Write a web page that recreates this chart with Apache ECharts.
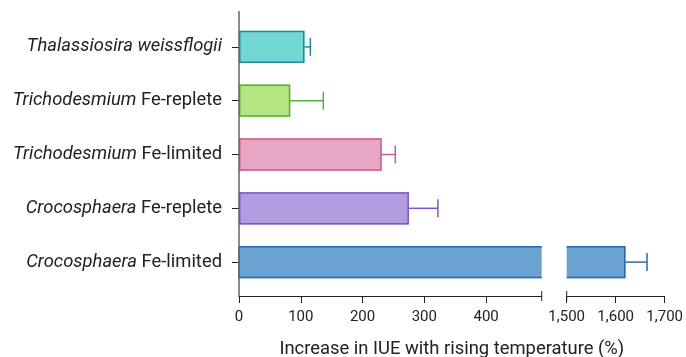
<!DOCTYPE html>
<html><head><meta charset="utf-8">
<script src="https://cdn.jsdelivr.net/npm/echarts@6/dist/echarts.min.js"></script>
<style>html,body{margin:0;padding:0;background:#fff}#c{width:686px;height:357px}</style>
</head><body><div id="c"></div>
<script>
// ---- data (top to bottom) ----
const categories = ['Thalassiosira weissflogii', 'Trichodesmium Fe-replete', 'Trichodesmium Fe-limited', 'Crocosphaera Fe-replete', 'Crocosphaera Fe-limited'];
const italicParts = ['Thalassiosira weissflogii', 'Trichodesmium', 'Trichodesmium', 'Crocosphaera', 'Crocosphaera'];
const plainParts = ['', ' Fe-replete', ' Fe-limited', ' Fe-replete', ' Fe-limited'];
const means = [106, 83, 231, 275, 1620];
const upperErrors = [115.5, 136.5, 253, 322, 1664];
const lowTicks = [0, 100, 200, 300, 400];
const highTicks = [1500, 1600, 1700];
const axisTitle = 'Increase in IUE with rising temperature (%)';

// ---- styles ----
const fillColors = ['#74d7d3', '#b5e57f', '#e8a6c5', '#b39ce0', '#68a3d1'];
const edgeColors = ['#1b8b99', '#5aae3c', '#cf5b8f', '#7d55c7', '#2a69a9'];
const FONT = 'Roboto';
const LABEL_SIZE = 18.4;
const lowMax = 490, highMin = 1500, highMax = 1700;

const rows = means.map((v, i) => [v, i, upperErrors[i]]);

function makeRender(gi) {
  return function (params, api) {
    const cs = params.coordSys;
    const i = params.dataIndex;
    const v = api.value(0), c = api.value(1), up = api.value(2);
    const band = api.size([0, 1])[1];
    const h = band * 0.6;
    const yc = api.coord([gi === 0 ? 0 : highMin, c])[1];
    const top = yc - h / 2, bot = yc + h / 2;
    const left = cs.x, right = cs.x + cs.width;
    const fill = fillColors[i], edge = edgeColors[i];
    const children = [];
    const lw = 1.5;
    if (gi === 0) {
      const x0 = api.coord([0, c])[0];
      let x1 = api.coord([v, c])[0];
      const clipped = x1 > right;
      if (clipped) x1 = right;
      children.push({ type: 'rect', shape: { x: x0, y: top, width: x1 - x0, height: h }, style: { fill: fill } });
      if (clipped) {
        children.push({ type: 'polyline', shape: { points: [[x1, top + lw / 2], [x0, top + lw / 2], [x0, bot - lw / 2], [x1, bot - lw / 2]] }, style: { stroke: edge, lineWidth: lw, fill: null } });
      } else {
        children.push({ type: 'rect', shape: { x: x0 + lw / 2, y: top + lw / 2, width: x1 - x0 - lw, height: h - lw }, style: { stroke: edge, lineWidth: lw, fill: null } });
        const xe = api.coord([up, c])[0];
        children.push({ type: 'line', shape: { x1: x1, y1: yc, x2: xe, y2: yc }, style: { stroke: edge, lineWidth: lw } });
        children.push({ type: 'line', shape: { x1: xe, y1: yc - 9, x2: xe, y2: yc + 9 }, style: { stroke: edge, lineWidth: lw } });
      }
    } else {
      if (v <= highMin) return null;
      const x0 = left;
      const x1 = api.coord([v, c])[0];
      children.push({ type: 'rect', shape: { x: x0, y: top, width: x1 - x0, height: h }, style: { fill: fill } });
      children.push({ type: 'polyline', shape: { points: [[x0, top + lw / 2], [x1 - lw / 2, top + lw / 2], [x1 - lw / 2, bot - lw / 2], [x0, bot - lw / 2]] }, style: { stroke: edge, lineWidth: lw, fill: null } });
      const xe = api.coord([up, c])[0];
      children.push({ type: 'line', shape: { x1: x1, y1: yc, x2: xe, y2: yc }, style: { stroke: edge, lineWidth: lw } });
      children.push({ type: 'line', shape: { x1: xe, y1: yc - 9, x2: xe, y2: yc + 9 }, style: { stroke: edge, lineWidth: lw } });
    }
    return { type: 'group', children: children };
  };
}

const chart = echarts.init(document.getElementById('c'), null, { renderer: 'canvas' });
const xAxisCommon = {
  type: 'value', position: 'bottom', offset: 7,
  splitLine: { show: false },
  axisLine: { show: true, lineStyle: { color: '#222', width: 1 } },
  axisTick: { show: true, length: 7, lineStyle: { color: '#222', width: 1 } },
  axisLabel: { fontFamily: FONT, fontSize: 15, color: '#222', margin: 14 }
};
chart.setOption({
  animation: false,
  textStyle: { fontFamily: FONT },
  grid: [
    { left: 239, top: 20, height: 269, width: 302.7, containLabel: false },
    { left: 566.7, top: 20, height: 269, width: 101, containLabel: false }
  ],
  xAxis: [
    Object.assign({}, xAxisCommon, {
      gridIndex: 0, min: 0, max: lowMax, interval: 100,
      axisTick: Object.assign({}, xAxisCommon.axisTick, { customValues: lowTicks }),
      axisLabel: Object.assign({}, xAxisCommon.axisLabel, { customValues: lowTicks })
    }),
    Object.assign({}, xAxisCommon, {
      gridIndex: 1, min: highMin, max: highMax, interval: 100,
      axisTick: Object.assign({}, xAxisCommon.axisTick, { customValues: highTicks }),
      axisLabel: Object.assign({}, xAxisCommon.axisLabel, { customValues: highTicks, formatter: v => v.toLocaleString('en-US') })
    })
  ],
  yAxis: [
    {
      type: 'category', gridIndex: 0, data: categories, inverse: true,
      axisLine: { show: false },
      axisTick: { show: true, alignWithLabel: true, length: 7, lineStyle: { color: '#222' } },
      axisLabel: {
        margin: 17, fontFamily: FONT, fontSize: LABEL_SIZE, color: '#222',
        formatter: (val, idx) => '{i|' + italicParts[idx] + '}' + plainParts[idx],
        rich: { i: { fontStyle: 'italic', fontFamily: FONT, fontSize: LABEL_SIZE, color: '#222' } }
      }
    },
    {
      type: 'category', gridIndex: 1, data: categories, inverse: true, show: false
    }
  ],
  series: [
    { type: 'custom', xAxisIndex: 0, yAxisIndex: 0, data: rows, renderItem: makeRender(0), clip: false, z: 3 },
    { type: 'custom', xAxisIndex: 1, yAxisIndex: 1, data: rows, renderItem: makeRender(1), clip: false, z: 3 }
  ]
});

// axis decorations derived from the axes
const yTop = 11, yBot = 296;
const xZero = chart.convertToPixel({ xAxisIndex: 0 }, 0);
const xBreakL = chart.convertToPixel({ xAxisIndex: 0 }, lowMax);
const xBreakR = chart.convertToPixel({ xAxisIndex: 1 }, highMin);
const xEnd = chart.convertToPixel({ xAxisIndex: 1 }, highMax);
chart.setOption({
  graphic: [
    { type: 'line', shape: { x1: xZero, y1: yTop, x2: xZero, y2: yBot }, style: { stroke: '#666', lineWidth: 1.5 }, z: 10 },
    { type: 'line', shape: { x1: xBreakL, y1: yBot - 5, x2: xBreakL, y2: yBot + 5 }, style: { stroke: '#222', lineWidth: 1 }, z: 10 },
    { type: 'line', shape: { x1: xBreakR, y1: yBot - 5, x2: xBreakR, y2: yBot + 5 }, style: { stroke: '#222', lineWidth: 1 }, z: 10 },
    { type: 'text', x: (xZero + xEnd) / 2, y: 349, style: { text: axisTitle, fontFamily: FONT, fontSize: LABEL_SIZE, fill: '#222', align: 'center', verticalAlign: 'middle' } }
  ]
});
</script>
</body></html>
